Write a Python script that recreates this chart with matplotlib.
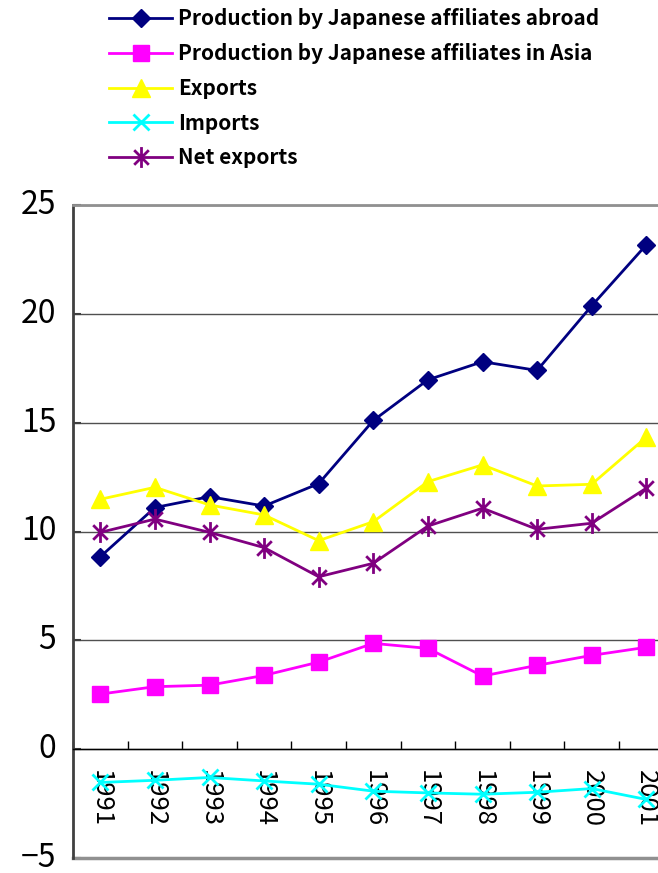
import matplotlib
matplotlib.use("Agg")
import matplotlib.pyplot as plt
from matplotlib.path import Path
from matplotlib.ticker import FixedLocator

plt.rcParams['font.family'] = ['Noto Sans CJK JP', 'DejaVu Sans']

years = ['1991', '1992', '1993', '1994', '1995', '1996', '1997', '1998', '1999', '2000', '2001']
prod_abroad = [8.84, 11.1, 11.6, 11.17, 12.2, 15.1, 16.97, 17.8, 17.4, 20.37, 23.17]
prod_asia = [2.53, 2.87, 2.94, 3.39, 4.0, 4.86, 4.63, 3.36, 3.85, 4.31, 4.68]
exports = [11.48, 12.03, 11.22, 10.76, 9.58, 10.45, 12.29, 13.06, 12.09, 12.17, 14.33]
imports = [-1.53, -1.43, -1.30, -1.46, -1.61, -1.93, -2.01, -2.07, -1.98, -1.81, -2.31]
net_exports = [9.96, 10.57, 9.96, 9.26, 7.92, 8.54, 10.25, 11.07, 10.1, 10.38, 11.99]

# excel style asterisk: an X with a vertical bar
star = Path([(-0.7, -0.7), (0.7, 0.7), (-0.7, 0.7), (0.7, -0.7), (0, -1), (0, 1)],
            [Path.MOVETO, Path.LINETO, Path.MOVETO, Path.LINETO, Path.MOVETO, Path.LINETO])

fig = plt.figure(figsize=(6.58, 8.73), dpi=100)
ax = fig.add_axes([73/658, 15/873, 585/658, 653/873])

x = list(range(len(years)))
ax.plot(x, prod_abroad, color='#000080', lw=2, marker='D', ms=9,
        label='Production by Japanese affiliates abroad', clip_on=False)
ax.plot(x, prod_asia, color='#FF00FF', lw=2, marker='s', ms=11.5,
        label='Production by Japanese affiliates in Asia', clip_on=False)
ax.plot(x, exports, color='#FFFF00', lw=2, marker='^', ms=13,
        label='Exports', clip_on=False)
ax.plot(x, imports, color='#00FFFF', lw=2, marker='x', ms=12, mew=2,
        label='Imports', clip_on=False)
ax.plot(x, net_exports, color='#800080', lw=2, marker=star, ms=15, mew=2,
        label='Net exports', clip_on=False)

ax.set_ylim(-5, 25)
ax.set_xlim(-0.5, -0.5 + 585/54.6)
ax.set_yticks([-5, 0, 5, 10, 15, 20, 25])
ax.yaxis.grid(True, color='#505050', lw=1)
ax.set_axisbelow(True)

ax.spines['bottom'].set_position(('data', 0))
ax.spines['bottom'].set_color('black')
ax.spines['bottom'].set_linewidth(1)
ax.spines['right'].set_visible(False)
ax.spines['top'].set_color('#909090')
ax.spines['top'].set_linewidth(2)
ax.spines['left'].set_color('#404040')
ax.spines['left'].set_linewidth(2)
ax.axhline(-5, color='#909090', lw=2.5, clip_on=False)

ax.xaxis.set_major_locator(FixedLocator(x))
ax.xaxis.set_minor_locator(FixedLocator([i - 0.5 for i in range(len(years) + 1)]))
ax.set_xticklabels(years, rotation=270, fontsize=18.5)
ax.tick_params(axis='x', which='major', length=0, pad=15)
ax.tick_params(axis='x', which='minor', direction='in', length=6, width=1)
ax.tick_params(axis='y', direction='in', length=6, width=1.5, color='#404040',
               labelsize=23, pad=12)
for lab in ax.get_yticklabels():
    lab.set_va('center')

fig.legend(loc='upper left', bbox_to_anchor=(101/658, 1.0), frameon=False,
           prop={'weight': 'bold', 'size': 15}, handlelength=3.0,
           handletextpad=0.3, labelspacing=0.66, borderpad=0.4, borderaxespad=0)

fig.savefig('out.png', dpi=100)
